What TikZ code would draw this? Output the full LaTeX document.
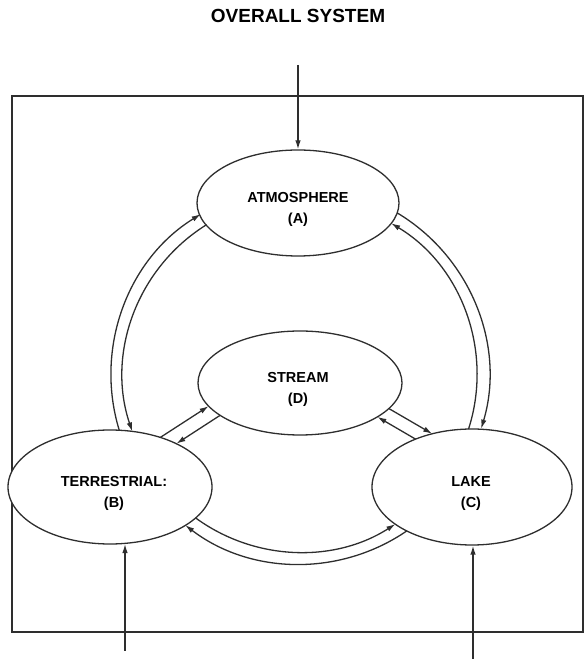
\documentclass[tikz,border=0pt]{standalone}
\usepackage{fontspec}
\setmainfont{Liberation Sans}
\usetikzlibrary{arrows.meta,shapes.geometric,intersections,calc}
\begin{document}
\begin{tikzpicture}[x=1pt,y=1pt,
  line/.style={line width=1.3pt, draw=black!82},
  arr/.style={line, -{Latex[length=9pt,width=5.5pt]}},
  sysbox/.style={ellipse, draw=black!82, line width=1.3pt, fill=white, inner sep=0pt},
  systext/.style={align=center, inner sep=0pt, font=\fontsize{14.5}{20.5}\selectfont\bfseries},
]
\useasboundingbox (0,0) rectangle (584,661);
\node[font=\fontsize{19}{22}\selectfont\bfseries] (title) at (298,645) {OVERALL SYSTEM};
\draw[line] (12,29) rectangle (583,565);

\node[sysbox, minimum width=202pt, minimum height=106pt, name path=pA] (A) at (298,458) {};
\node[sysbox, minimum width=204pt, minimum height=104pt, name path=pD] (D) at (300,278) {};
\node[sysbox, minimum width=204pt, minimum height=114pt, name path=pB] (B) at (110,174) {};
\node[sysbox, minimum width=200pt, minimum height=116pt, name path=pC] (C) at (472,174) {};
\node[systext] (At) at ($(A)+(0,-6.5)$) {ATMOSPHERE\\(A)};
\node[systext] (Dt) at ($(D)+(-2,-6.5)$) {STREAM\\(D)};
\node[systext] (Bt) at ($(B)+(4,-6.5)$) {TERRESTRIAL:\\(B)};
\node[systext] (Ct) at ($(C)+(-1,-6.5)$) {LAKE\\(C)};

% inputs
\coordinate (topin) at (298,596);
\draw[arr] (topin) -- (A.north);
\coordinate (bin) at (125,10);
\draw[arr] (bin) -- (bin |- B.285);
\coordinate (cin) at (473,2);
\draw[arr] (cin) -- (cin |- C.south);

% ring
\coordinate (O) at (300,286);
\draw[arr] ($(O)+(197:189)$) arc[start angle=197, end angle=121.7, radius=189];
\draw[arr] ($(O)+(121.9:177)$) arc[start angle=121.9, end angle=198.6, radius=177];
\draw[arr] ($(O)+(59:189)$) arc[start angle=59, end angle=-16.5, radius=189];
\draw[arr] ($(O)+(-17.8:177)$) arc[start angle=-17.8, end angle=59, radius=177];
\draw[arr] ($(O)+(-55.6:189)$) arc[start angle=-55.6, end angle=-127.4, radius=189];
\draw[arr] ($(O)+(-126.1:177)$) arc[start angle=-126.1, end angle=-57.4, radius=177];

% stream links
\coordinate (bdu1) at (137.8,209.0); \coordinate (bdu2) at (238.6,274.2);
\coordinate (bdl1) at (145.4,197.3); \coordinate (bdl2) at (246.2,262.5);
\coordinate (dcu1) at (358.3,270.3); \coordinate (dcu2) at (453.3,214.9);
\coordinate (dcl1) at (351.7,259.1); \coordinate (dcl2) at (446.7,203.7);
\path[name path=bdu] (bdu1) -- (bdu2);
\path[name path=bdl] (bdl1) -- (bdl2);
\path[name path=dcu] (dcu1) -- (dcu2);
\path[name path=dcl] (dcl1) -- (dcl2);
\path[name intersections={of=bdu and pB, by=bdub}];
\path[name intersections={of=bdu and pD, by=bdud}];
\path[name intersections={of=bdl and pB, by=bdlb}];
\path[name intersections={of=bdl and pD, by=bdld}];
\path[name intersections={of=dcu and pD, by=dcud}];
\path[name intersections={of=dcu and pC, by=dcuc}];
\path[name intersections={of=dcl and pD, by=dcld}];
\path[name intersections={of=dcl and pC, by=dclc}];
\draw[arr] (bdub) -- (bdud);
\draw[arr] (bdld) -- (bdlb);
\draw[arr] (dcud) -- (dcuc);
\draw[arr] (dclc) -- (dcld);
\end{tikzpicture}
\end{document}
